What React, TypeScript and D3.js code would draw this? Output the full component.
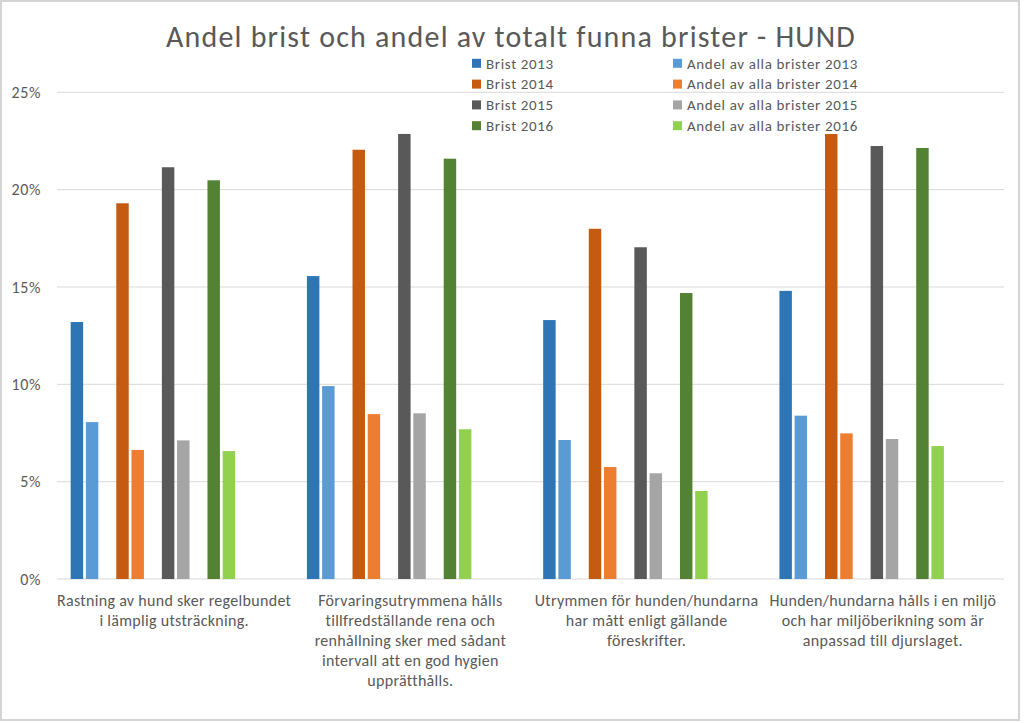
import React, { useEffect, useRef } from "react";
import * as d3 from "d3";

const categories: string[][] = [
  ["Rastning av hund sker regelbundet", "i lämplig utsträckning."],
  ["Förvaringsutrymmena hålls", "tillfredställande rena och", "renhållning sker med sådant", "intervall att en god hygien", "upprätthålls."],
  ["Utrymmen för hunden/hundarna", "har mått enligt gällande", "föreskrifter."],
  ["Hunden/hundarna hålls i en miljö", "och har miljöberikning som är", "anpassad till djurslaget."],
];

const seriesNames = [
  "Brist 2013", "Andel av alla brister 2013",
  "Brist 2014", "Andel av alla brister 2014",
  "Brist 2015", "Andel av alla brister 2015",
  "Brist 2016", "Andel av alla brister 2016",
];

const brist2013 = [13.2, 15.56, 13.3, 14.8];
const andel2013 = [8.06, 9.91, 7.14, 8.39];
const brist2014 = [19.3, 22.05, 17.99, 22.86];
const andel2014 = [6.63, 8.47, 5.75, 7.48];
const brist2015 = [21.15, 22.86, 17.04, 22.24];
const andel2015 = [7.12, 8.51, 5.43, 7.19];
const brist2016 = [20.48, 21.59, 14.69, 22.14];
const andel2016 = [6.57, 7.69, 4.52, 6.83];

const seriesValues = [brist2013, andel2013, brist2014, andel2014, brist2015, andel2015, brist2016, andel2016];
const seriesColors = ["#2E75B6", "#5B9BD5", "#C55A11", "#ED7D31", "#595959", "#A5A5A5", "#548235", "#92D050"];

const yTicks = [0, 5, 10, 15, 20, 25];
const title = "Andel brist och andel av totalt funna brister - HUND";

const FONT = "Carlito, Lato, 'Open Sans', sans-serif";
const TEXT = "#595959";

export default function App() {
  const ref = useRef<SVGSVGElement>(null);
  useEffect(() => {
    document.body.style.margin = "0";
    const svg = d3.select(ref.current);
    svg.selectAll("*").remove();

    const W = 1024, H = 723;
    svg.append("rect").attr("x", 0).attr("y", 0).attr("width", W).attr("height", H).attr("fill", "#fff");
    svg.append("rect").attr("x", 1).attr("y", 1).attr("width", 1018).attr("height", 719)
      .attr("fill", "none").attr("stroke", "#d4d4d4").attr("stroke-width", 2);

    const y = d3.scaleLinear().domain([0, 25]).range([579, 92.3]);
    const x0 = d3.scaleBand<number>().domain(d3.range(categories.length)).range([56, 1001]);
    const slotIds = d3.range(12);
    const slotStep = 15.2;
    const inner = d3.scaleBand<number>().domain(slotIds)
      .range([13.3, 13.3 + slotStep * 12]).paddingInner(0.18).paddingOuter(0.09);

    const g = svg.append("g");
    g.selectAll("line.grid").data(yTicks).enter().append("line")
      .attr("x1", 57).attr("x2", 1004)
      .attr("y1", d => y(d)).attr("y2", d => y(d))
      .attr("stroke", "#d9d9d9").attr("stroke-width", 1);

    g.selectAll("text.ytick").data(yTicks).enter().append("text")
      .attr("x", 41).attr("y", d => y(d)).attr("dy", "0.35em")
      .attr("text-anchor", "end").attr("fill", TEXT)
      .attr("font-family", FONT).attr("font-size", 16).attr("letter-spacing", 0.6)
      .text(d => d + "%");

    seriesValues.forEach((vals, si) => {
      const slot = si + Math.floor(si / 2);
      g.selectAll("rect.s" + si).data(vals).enter().append("rect")
        .attr("x", (_, ci) => (x0(ci) as number) + (inner(slot) as number))
        .attr("width", inner.bandwidth())
        .attr("y", d => y(d))
        .attr("height", d => y(0) - y(d))
        .attr("fill", seriesColors[si]);
    });

    categories.forEach((lines, ci) => {
      const cx = (x0(ci) as number) + x0.bandwidth() / 2;
      const t = g.append("text").attr("text-anchor", "middle").attr("fill", TEXT)
        .attr("font-family", FONT).attr("font-size", 16).attr("letter-spacing", 0.3);
      lines.forEach((ln, li) => {
        t.append("tspan").attr("x", cx).attr("y", 600.7 + li * 20).attr("dy", "0.35em").text(ln);
      });
    });

    svg.append("text").attr("x", 511).attr("y", 47).attr("text-anchor", "middle")
      .attr("fill", TEXT).attr("font-family", FONT).attr("font-weight", 300).attr("font-size", 30)
      .attr("letter-spacing", 1.2)
      .text(title);

    const legendRowY = d3.scalePoint<number>().domain([0, 1, 2, 3]).range([63.3, 125.7]);
    const legendColX = [472, 673];
    seriesNames.forEach((name, si) => {
      const col = si % 2;
      const row = Math.floor(si / 2);
      const ly = legendRowY(row) as number;
      svg.append("rect").attr("x", legendColX[col]).attr("y", ly - 4.5).attr("width", 9).attr("height", 9)
        .attr("fill", seriesColors[si]);
      svg.append("text").attr("x", legendColX[col] + 14).attr("y", ly).attr("dy", "0.35em")
        .attr("fill", TEXT).attr("font-family", FONT).attr("font-size", 15).attr("letter-spacing", 0.65)
        .text(name);
    });
  }, []);
  return <svg ref={ref} width={1024} height={723} style={{ display: "block" }} />;
}
